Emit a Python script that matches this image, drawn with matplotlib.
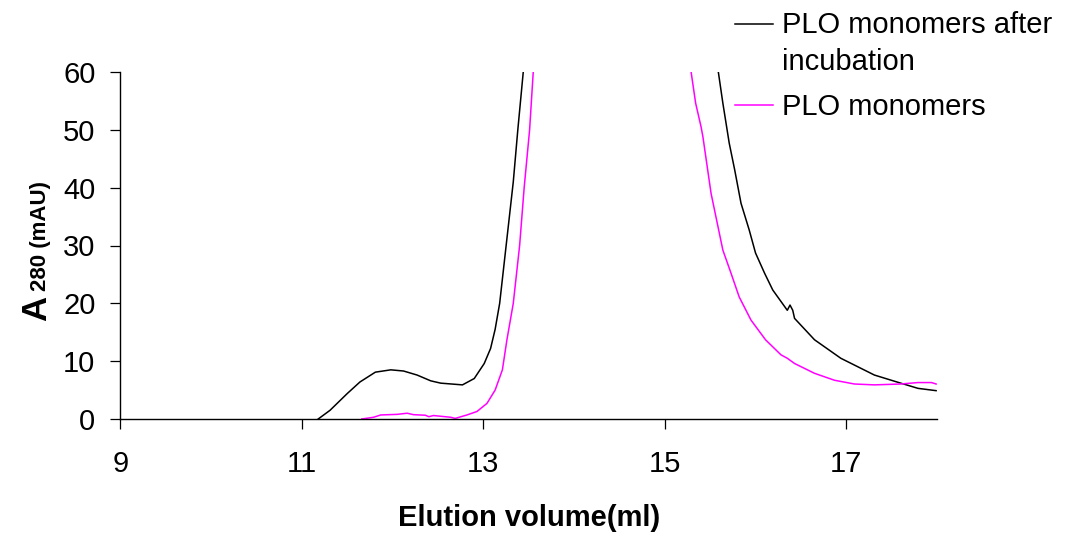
import matplotlib
matplotlib.use("Agg")
import matplotlib.pyplot as plt
from matplotlib.lines import Line2D

# ---- data ----
black_x = [11.18, 11.31, 11.50, 11.64, 11.81, 11.98, 12.12, 12.27, 12.42, 12.53, 12.77, 12.90,
           13.01, 13.08, 13.13, 13.18, 13.23, 13.28, 13.33, 13.38, 13.44, 13.47,
           15.56, 15.59, 15.64, 15.71, 15.77, 15.84, 15.93, 16.00, 16.10, 16.19, 16.35, 16.38,
           16.41, 16.43, 16.65, 16.94, 17.31, 17.60, 17.79, 17.99]
black_y = [0, 1.5, 4.4, 6.4, 8.1, 8.5, 8.3, 7.6, 6.6, 6.2, 5.9, 7.0,
           9.6, 12.2, 15.5, 20, 27, 34, 41, 50, 60, 66,
           66, 60, 54.6, 47.7, 43.1, 37.3, 32.7, 28.7, 25.2, 22.3, 18.8, 19.7,
           18.8, 17.4, 13.7, 10.5, 7.6, 6.2, 5.3, 4.9]

mag_x = [11.66, 11.79, 11.87, 12.05, 12.16, 12.23, 12.36, 12.40, 12.45, 12.64, 12.69, 12.82,
         12.93, 13.04, 13.13, 13.21, 13.26, 13.33, 13.40, 13.45, 13.51, 13.55, 13.57,
         15.27, 15.29, 15.34, 15.40, 15.42, 15.51, 15.64, 15.73, 15.82, 15.95, 16.11, 16.28,
         16.35, 16.43, 16.65, 16.87, 17.09, 17.31, 17.60, 17.79, 17.94, 17.99]
mag_y = [0, 0.3, 0.7, 0.8, 1.0, 0.75, 0.65, 0.4, 0.6, 0.3, 0.1, 0.7,
         1.3, 2.7, 5.0, 8.5, 13.7, 20, 30, 40, 50, 60, 66,
         66, 60, 54.6, 50.5, 48.8, 39.0, 29.2, 25.2, 21.1, 17.1, 13.7, 11.1,
         10.5, 9.6, 7.9, 6.7, 6.05, 5.9, 6.05, 6.3, 6.3, 6.05]

x_ticks = [9, 11, 13, 15, 17]
y_ticks = [0, 10, 20, 30, 40, 50, 60]
label_black = "PLO monomers after\nincubation"
label_mag = "PLO monomers"
x_label = "Elution volume(ml)"

plt.rcParams['font.family'] = ['Liberation Sans', 'DejaVu Sans']

W, H = 1065, 535
fig = plt.figure(figsize=(W / 100, H / 100), dpi=100)
def fx(px): return px / W
def fy(py): return 1 - py / H

ax = fig.add_axes([fx(120.4), fy(419), fx(937) - fx(120.4), fy(72) - fy(419)])
ax.plot(black_x, black_y, color='black', lw=1.1)
ax.plot(mag_x, mag_y, color='#FF00FF', lw=1.1)
ax.set_xlim(9, 18)
ax.set_ylim(0, 60)
ax.set_xticks(x_ticks)
ax.set_yticks(y_ticks)
for s in ['top', 'right']:
    ax.spines[s].set_visible(False)
for s in ['left', 'bottom']:
    ax.spines[s].set_linewidth(1.0)
    ax.spines[s].set_color('black')
ax.tick_params(axis='both', direction='out', length=7.2, width=0.9, labelsize=21, colors='black')
ax.tick_params(axis='y', pad=10.8)
ax.tick_params(axis='x', pad=15)

ax.set_xlabel(x_label, fontsize=21, fontweight='bold', va='center')
ax.xaxis.set_label_coords(0.5, (419 - 518) / 347)

# y label: "A" large, "280 (mAU)" smaller
fig.text(fx(46), fy(321), "A", rotation=90, rotation_mode='anchor', ha='left', va='baseline',
         fontsize=25, fontweight='bold')
fig.text(fx(46), fy(291), "280 (mAU)", rotation=90, rotation_mode='anchor', ha='left', va='baseline',
         fontsize=16, fontweight='bold')

# legend (outside top-right)
fig.add_artist(Line2D([fx(735), fx(773)], [fy(24), fy(24)], color='black', lw=1.1))
fig.add_artist(Line2D([fx(735), fx(773)], [fy(105), fy(105)], color='#FF00FF', lw=1.1))
fig.text(fx(782), fy(33.3), label_black.split("\n")[0], fontsize=21, ha='left', va='baseline')
fig.text(fx(782), fy(70.5), label_black.split("\n")[1], fontsize=21, ha='left', va='baseline')
fig.text(fx(782), fy(115), label_mag, fontsize=21, ha='left', va='baseline')

fig.savefig("out.png", dpi=100)
